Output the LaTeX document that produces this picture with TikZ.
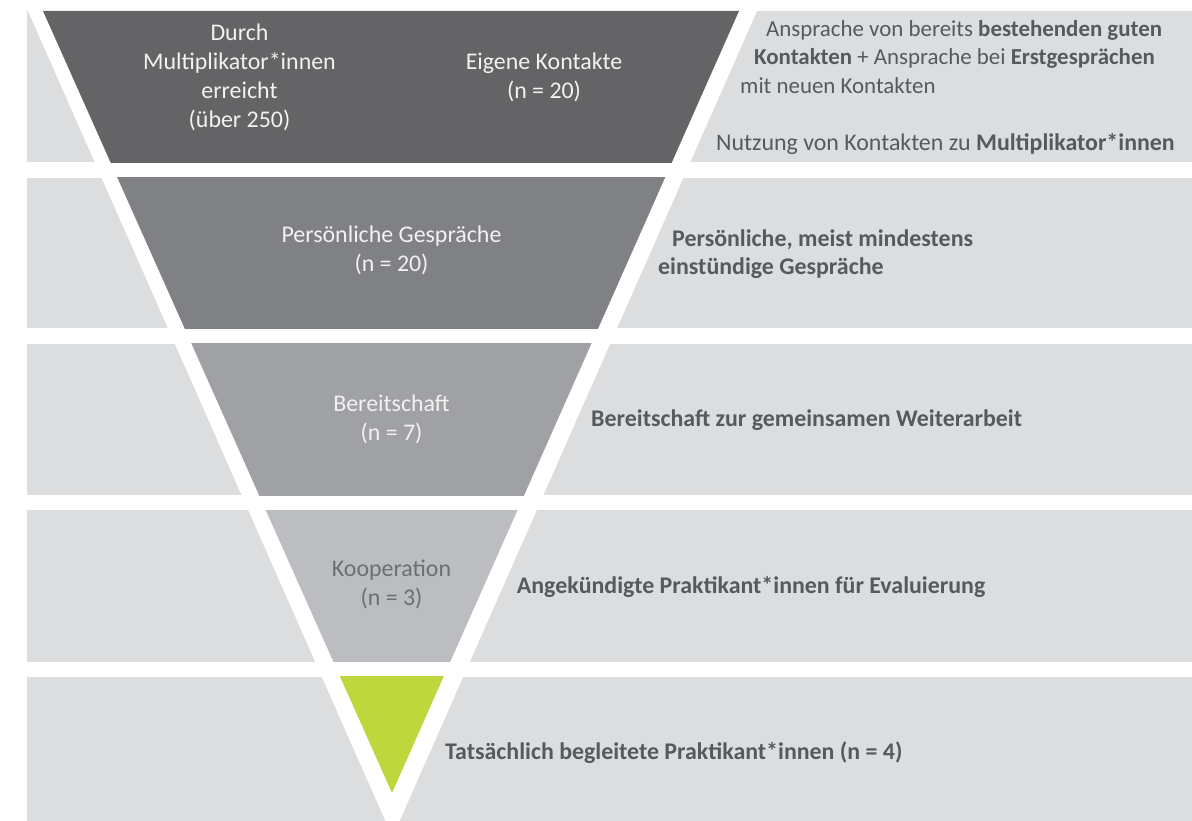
\documentclass[tikz,border=0pt]{standalone}
\usepackage{fontspec}
\setmainfont{Carlito}
\definecolor{lightband}{HTML}{DCDDDF}
\definecolor{bandA}{HTML}{646466}
\definecolor{bandB}{HTML}{808184}
\definecolor{bandC}{HTML}{A0A1A4}
\definecolor{bandD}{HTML}{BCBDC0}
\definecolor{bandE}{HTML}{BED73C}
\definecolor{sidetext}{HTML}{58595B}
\definecolor{kooptext}{HTML}{6D6E71}
\definecolor{intext}{HTML}{F2F2F2}
\tikzset{
  txt/.style={inner sep=0pt, font=\fontsize{23.9}{29}\selectfont},
  intxt/.style={txt, text=intext, anchor=base},
  sidetxt/.style={txt, text=sidetext, anchor=base west},
  sidesmall/.style={sidetxt, font=\fontsize{22.9}{28}\selectfont},
  sidebold/.style={sidetxt, font=\fontsize{23.9}{29}\selectfont\bfseries},
}
\begin{document}
\begin{tikzpicture}[x=1pt,y=-1pt]
\useasboundingbox (0,0) rectangle (1192,821);
\fill[white] (0,0) rectangle (1192,821);
% light background bands
\foreach \t/\b in {11/162.5, 177.7/328.3, 343.5/495, 510/661.7, 676.7/821}
  {\fill[lightband] (27,\t) rectangle (1192,\b);}
% white V stripe
\fill[white] (28,11) -- (757,11) -- (392.5,837) -- cycle;
% funnel segments
\foreach \t/\b/\c in {11/162.5/bandA, 177.7/328.3/bandB, 343.5/495/bandC, 510/661.7/bandD, 676.7/821/bandE}
  {\begin{scope}
     \clip (27,\t) rectangle (1192,\b);
     \fill[\c] (43,11) -- (739,11) -- (392,793) -- cycle;
   \end{scope}}
% band 1 inner texts
\node[intxt] (d1) at (239.5,40.3) {Durch};
\node[intxt] (d2) at (239.5,69.3) {Multiplikator*innen};
\node[intxt] (d3) at (239.5,98.3) {erreicht};
\node[intxt] (d4) at (239.5,127.3) {(über 250)};
\node[intxt] (e1) at (544,69.3) {Eigene Kontakte};
\node[intxt] (e2) at (544,98.3) {(n = 20)};
% band 2-4 inner texts
\node[intxt] (p1) at (391.5,242.7) {Persönliche Gespräche};
\node[intxt] (p2) at (391.5,271.7) {(n = 20)};
\node[intxt] (b1) at (391.5,411) {Bereitschaft};
\node[intxt] (b2) at (391.5,440) {(n = 7)};
\node[intxt, text=kooptext] (k1) at (391.5,576.7) {Kooperation};
\node[intxt, text=kooptext] (k2) at (391.5,605.7) {(n = 3)};
% right side texts
\node[sidesmall] (r1a) at (766,37) {Ansprache von bereits \textbf{bestehenden guten}};
\node[sidesmall] (r1b) at (754,65) {\textbf{Kontakten} + Ansprache bei \textbf{Erstgesprächen}};
\node[sidesmall] (r1c) at (740,93.5) {mit neuen Kontakten};
\node[sidetxt] (r1d) at (716,151) {Nutzung von Kontakten zu \textbf{Multiplikator*innen}};
\node[sidebold] (r2a) at (672,246.7) {Persönliche, meist mindestens};
\node[sidebold] (r2b) at (658,275) {einstündige Gespräche};
\node[sidebold] (r3) at (591,426.7) {Bereitschaft zur gemeinsamen Weiterarbeit};
\node[sidebold] (r4) at (516.7,593.3) {Angekündigte Praktikant*innen für Evaluierung};
\node[sidebold] (r5) at (445,759.3) {Tatsächlich begleitete Praktikant*innen (n = 4)};
\end{tikzpicture}
\end{document}
